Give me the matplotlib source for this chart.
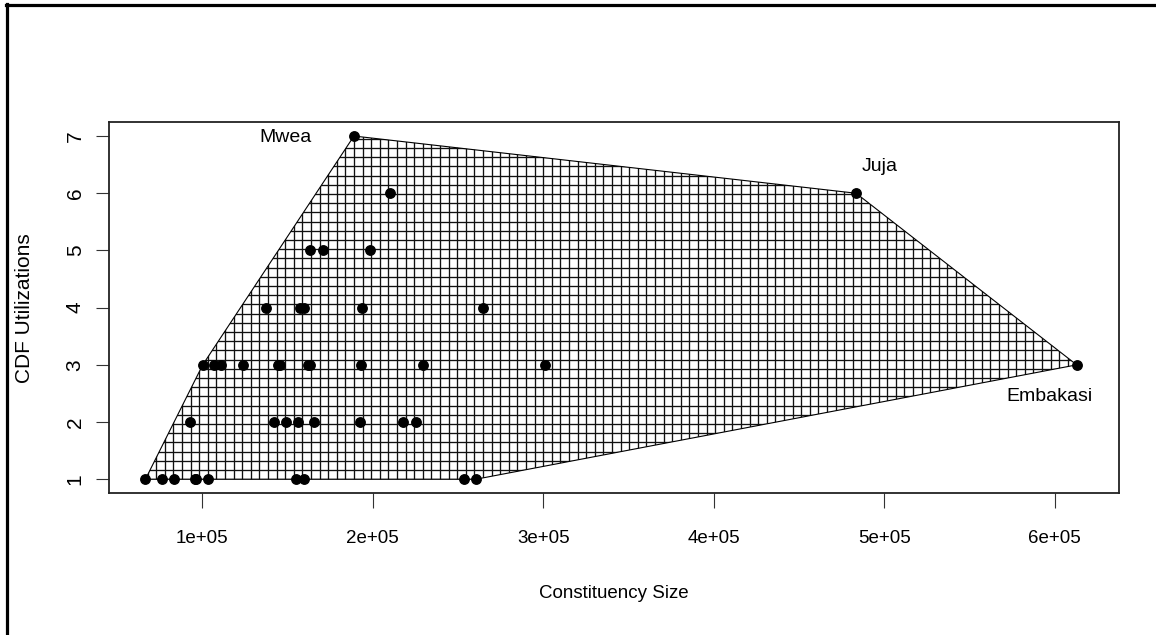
import numpy as np
import matplotlib
matplotlib.use("Agg")
import matplotlib.pyplot as plt
from matplotlib.patches import Polygon
from matplotlib.lines import Line2D

# ---------------- data ----------------
size_vals = [189000,
             210000, 483500,
             163000, 171000, 198500,
             137600, 157100, 159800, 193600, 264600,
             100300, 106800, 111200, 124100, 144500, 145500, 162000, 163000,
             193000, 229700, 300900, 612900,
             92700, 142300, 148900, 156300, 165500, 192400, 217600, 225200,
             66700, 76500, 83700, 95500, 96500, 103400, 155300, 160000,
             253300, 260400]
cdf_vals = [7,
            6, 6,
            5, 5, 5,
            4, 4, 4, 4, 4,
            3, 3, 3, 3, 3, 3, 3, 3,
            3, 3, 3, 3,
            2, 2, 2, 2, 2, 2, 2, 2,
            1, 1, 1, 1, 1, 1, 1, 1,
            1, 1]

label_names = ["Mwea", "Juja", "Embakasi"]
label_x = [189000, 483500, 612900]
label_y = [7, 6, 3]

xtick_vals = [100000, 200000, 300000, 400000, 500000, 600000]
xtick_labels = ["1e+05", "2e+05", "3e+05", "4e+05", "5e+05", "6e+05"]
ytick_vals = [1, 2, 3, 4, 5, 6, 7]
ytick_labels = ["1", "2", "3", "4", "5", "6", "7"]

x_title = "Constituency Size"
y_title = "CDF Utilizations"

# ---------------- styling ----------------
plt.rcParams["font.family"] = ["Liberation Sans", "DejaVu Sans"]
W, H = 1156, 635
fig = plt.figure(figsize=(W / 100, H / 100), dpi=100)
fig.patch.set_facecolor("white")

ax_l, ax_r, ax_t, ax_b = 108.9, 1118.5, 122.3, 493.0
ax = fig.add_axes([ax_l / W, 1 - ax_b / H, (ax_r - ax_l) / W, (ax_b - ax_t) / H])
ax.set_xlim(45280, 637420)
ax.set_ylim(0.76, 7.24)


# convex hull (monotone chain)
def convex_hull(pts):
    pts = sorted(set(pts))
    if len(pts) <= 2:
        return pts

    def cross(o, a, b):
        return (a[0] - o[0]) * (b[1] - o[1]) - (a[1] - o[1]) * (b[0] - o[0])

    lower, upper = [], []
    for p in pts:
        while len(lower) >= 2 and cross(lower[-2], lower[-1], p) <= 0:
            lower.pop()
        lower.append(p)
    for p in reversed(pts):
        while len(upper) >= 2 and cross(upper[-2], upper[-1], p) <= 0:
            upper.pop()
        upper.append(p)
    return lower[:-1] + upper[:-1]


hull = convex_hull(list(zip(size_vals, cdf_vals)))
poly = Polygon(hull, closed=True, facecolor="none", edgecolor="black",
               linewidth=0.8, zorder=3)
ax.add_patch(poly)

# cross-hatching (vertical + horizontal lines clipped to the hull)
xr, yr = ax.get_xlim(), ax.get_ylim()
sp_x_px, sp_y_px = 8.6, 9.2
dx = (xr[1] - xr[0]) * sp_x_px / (ax_r - ax_l)
dy = (yr[1] - yr[0]) * sp_y_px / (ax_b - ax_t)
vl = ax.vlines(np.arange(xr[0] + dx / 2, xr[1], dx), yr[0], yr[1],
               colors="#111111", linewidth=0.95, zorder=2)
hl = ax.hlines(np.arange(yr[0] + dy / 2, yr[1], dy), xr[0], xr[1],
               colors="#111111", linewidth=0.95, zorder=2)
vl.set_clip_path(poly)
hl.set_clip_path(poly)

# points
ax.plot(size_vals, cdf_vals, linestyle="none", marker="o", markersize=6.8,
        color="black", zorder=4)

# labels
offsets = [(-49.3, -0.7), (17.3, 19.4), (-19.6, -22.5)]
for name, lx, ly, off in zip(label_names, label_x, label_y, offsets):
    ax.annotate(name, xy=(lx, ly), xytext=off, textcoords="offset points",
                ha="center", va="center", fontsize=14, color="black")

# axes / ticks
ax.set_xticks(xtick_vals)
ax.set_xticklabels(xtick_labels)
ax.set_yticks(ytick_vals)
ax.set_yticklabels(ytick_labels)
for s in ax.spines.values():
    s.set_linewidth(1.3)
    s.set_color("#222222")
ax.tick_params(axis="x", direction="out", length=10.8, width=0.8,
               color="#333333", labelsize=13.5, pad=16)
ax.tick_params(axis="y", direction="out", length=9.4, width=0.8,
               color="#333333", labelsize=15, pad=8)
for t in ax.get_yticklabels():
    t.set_rotation(90)
    t.set_va("center")
    t.set_ha("right")

ax.set_xlabel(x_title, fontsize=13.5)
ax.xaxis.set_label_coords(0.5, (ax_b - 593) / (ax_b - ax_t))
ax.xaxis.label.set_va("center")
ax.set_ylabel(y_title, fontsize=15)
ax.yaxis.set_label_coords((25 - ax_l) / (ax_r - ax_l), 0.5)
ax.yaxis.label.set_va("center")

# outer frame (top and left lines)
fig.add_artist(Line2D([6 / W, 1.0], [1 - 5 / H, 1 - 5 / H], color="black",
                      linewidth=2.3, transform=fig.transFigure))
fig.add_artist(Line2D([7 / W, 7 / W], [0.0, 1 - 4 / H], color="black",
                      linewidth=2.3, transform=fig.transFigure))

fig.savefig("out.png", dpi=100, facecolor="white")
